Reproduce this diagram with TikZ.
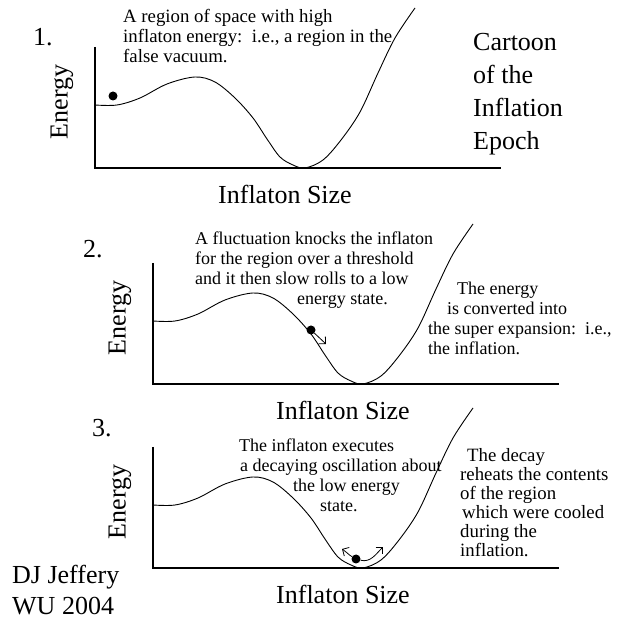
\documentclass[tikz,border=0pt]{standalone}
\usepackage{fontspec}
\setmainfont{Liberation Serif}
\usepackage{tikz}
\usetikzlibrary{arrows.meta}

\tikzset{
    big/.style={font=\fontsize{26}{33}\selectfont, inner sep=0pt},
    small/.style={font=\fontsize{18}{20}\selectfont, inner sep=0pt, align=left},
    ball/.style={circle, fill=black, inner sep=0pt, minimum size=9pt},
    swing/.style={-{Straight Barb[angle=90:7pt]}, line width=0.8pt},
}

\begin{document}
\begin{tikzpicture}[x=1pt, y=1pt]
    \useasboundingbox (0,0) rectangle (621,626);
    % Three panels: axes and potential curve
    \foreach \n/\ox/\oy in {1/95/458, 2/153/242, 3/153/58} {
        \draw[line width=1.4pt] (\ox,\oy+121) -- (\ox,\oy) -- (\ox+406,\oy); % Axes
        \draw[line width=0.9pt, shift={(\ox,\oy)}] plot[smooth, tension=0.55] coordinates {(0,63) (22,63) (45,70) (72,84) (100,91) (120,86) (140,70) (158,50) (172,29) (185,11) (198,3) (210,0) (228,8) (246,28) (265,56) (283,95) (300,130) (320,160)}; % Potential
        \node[big, rotate=90] (energy\n) at (\ox-33,\oy+66) {Energy};
        \node[big, anchor=base west] (size\n) at (\ox+123,\oy-36) {Inflaton Size};
    }
    \node[big, anchor=base west] (num1) at (33,580) {1.};
    \node[big, anchor=base west] (num2) at (83,368) {2.};
    \node[big, anchor=base west] (num3) at (92,189) {3.};
    % multi-line nodes sit on their last line
    \node[big, anchor=base west, align=left] (title) at (473,476) {Cartoon\\of the\\Inflation\\Epoch};
    \node[big, anchor=base west, align=left, font=\fontsize{26}{32}\selectfont] (credit) at (12,11) {DJ Jeffery\\WU 2004};

    % Notes
    \node[small, anchor=base west, font=\fontsize{18.8}{20}\selectfont] (note1) at (123,563) {A region of space with high\\inflaton energy:\ \ i.e., a region in the\\false vacuum.};
    \node[small, anchor=base west] (note2) at (195,321) {A fluctuation knocks the inflaton\\for the region over a threshold\\and it then slow rolls to a low\\\hspace*{102pt}energy state.};
    \node[small, anchor=base west] (note2b) at (428,271) {\hspace*{29pt}The energy\\\hspace*{19pt}is converted into\\the super expansion:\ \ i.e.,\\the inflation.};
    \node[small, anchor=base west] (note3) at (239,114) {The inflaton executes\\\hspace*{1pt}a decaying oscillation about\\\hspace*{54pt}the low energy\\\hspace*{81pt}state.};
    \node[small, anchor=base west, font=\fontsize{18.8}{19}\selectfont] (note3b) at (460,69) {\hspace*{7pt}The decay\\reheats the contents\\of the region\\\hspace*{2pt}which were cooled\\during the\\inflation.};

    % Balls and their motion
    \node[ball] (ball1) at (113,530) {};
    \node[ball] (ball2) at (311,296) {};
    \node[ball] (ball3) at (356,67) {};
    \coordinate (roll2) at (326,282);
    \coordinate (swingl3) at (342,77);
    \coordinate (swingr3) at (383,79);
    \draw[swing] (ball2) -- (roll2);
    \draw[swing] (ball3) to[out=150, in=-30] (swingl3);
    \draw[swing] (ball3) to[out=-15, in=225] (swingr3);
\end{tikzpicture}
\end{document}
